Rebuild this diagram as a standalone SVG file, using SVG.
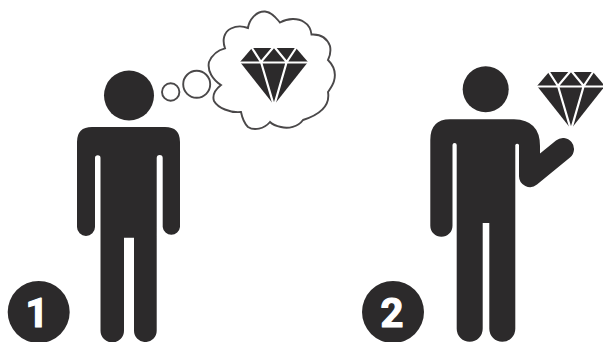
<svg xmlns="http://www.w3.org/2000/svg" width="603" height="342" viewBox="0 0 603 342">
<style>
.k{fill:#2c2a2b}
.o{fill:none;stroke:#4a4849;stroke-width:1.9}
.f{fill:none;stroke:#fff;stroke-width:2.200;stroke-linejoin:miter}
.n{font-family:Roboto,"Liberation Sans",sans-serif;font-weight:700;font-size:40px;fill:#fff;stroke:#fff;stroke-width:1.200;stroke-linejoin:round;text-anchor:middle}
</style>
<defs>
<g id="gem">
<polygon class="k" points="252,48 296,48 308,62 274,105 240,62"/>
<path class="f" d="M239 62.500H309M251 46.500L261 62L274 46.500L286.700 62L297 46.500M261 62L274 106L286.700 62"/>
</g>
</defs>
<rect width="603" height="342" fill="#fff"/>
<g id="person-1">
<circle class="k" cx="129" cy="95.500" r="25"/>
<path class="k" d="M92 127H165Q180 127 180 142V227A8.700 8.700 0 0 1 162.700 227V158A3 3 0 0 0 156.700 158V330.700A11.350 11.350 0 0 1 134 330.700V237.700H124V330.700A11.750 11.750 0 0 1 100.500 330.700V158A2.750 2.750 0 0 0 95 158V227A9 9 0 0 1 77 227V142Q77 127 92 127Z"/>
</g>
<g id="thought">
<circle class="o" cx="170.700" cy="92" r="8.700"/>
<circle class="o" cx="196.700" cy="84.300" r="13.500"/>
<path class="o" d="M248 28C249 20 256 11 265 11.500C272 12 276 18 280 22.500C288 18 298 18 304 22C309 25 311 30 311.500 34.500C320 34 327 38 330 46C331 51 330 56 328 60C334 66 336 74 334 81C333 85 330 89 328 92C330 104 322 114 303 120C298 127 288 129 281 127C276 126 272 124 270 122C264 129 254 131 248 127C244 123 242 117 241 112C230 113 218 108 214 101C212 95 216 89 221 85C213 80 207 71 209 62C212 55 218 50 225 48.300C222 40 224 32 231 28.500C236 26 243 26 248 28Z"/>
<use href="#gem"/>
</g>
<g id="person-2">
<circle class="k" cx="485.700" cy="89.300" r="23"/>
<path class="k" d="M450 119.300H514Q540 120 540 146V153.600L556 140.500A11 11 0 0 1 570 157.500L537 184.500A11 11 0 0 1 519 176V145A2 2 0 0 0 515.300 145V328.700A13 13 0 0 1 489.300 328.700V223H482.700V328.700A13 13 0 0 1 456.700 328.700V145A2.100 2.100 0 0 0 452.500 145V225.700A11.100 11.100 0 0 1 430.300 225.700V140Q430.300 119.300 450 119.300Z"/>
<use href="#gem" x="297" y="24"/>
</g>
<g id="badge-1">
<circle class="k" cx="38.700" cy="312" r="31"/>
<text class="n" x="37" y="327">1</text>
</g>
<g id="badge-2">
<circle class="k" cx="393" cy="312" r="31"/>
<text class="n" x="392" y="327">2</text>
</g>
</svg>
